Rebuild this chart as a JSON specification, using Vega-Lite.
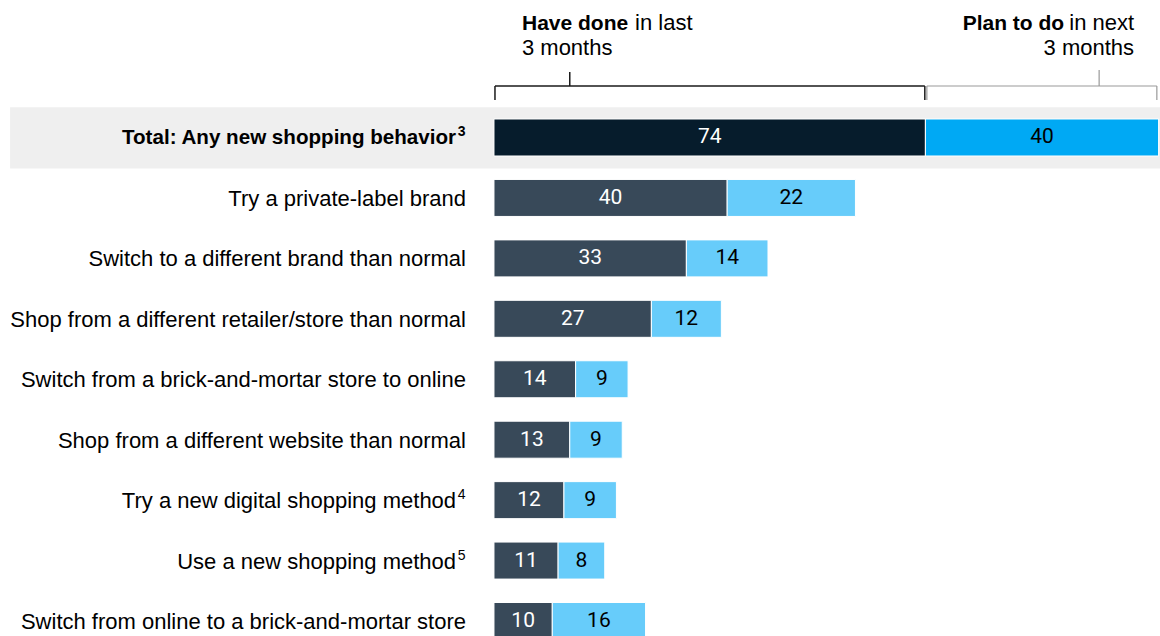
{
  "$schema": "https://vega.github.io/schema/vega-lite/v6.json",
  "autosize": "none",
  "padding": 0,
  "width": 1160,
  "height": 636,
  "background": "white",
  "config": {"view": {"stroke": null}, "text": {"font": "Liberation Sans"}},
  "data": {"values": [
    {"label": "Total: Any new shopping behavior", "note": "3", "row": 0, "done": 74, "plan": 40},
    {"label": "Try a private-label brand ", "note": "", "row": 1, "done": 40, "plan": 22},
    {"label": "Switch to a different brand than normal", "note": "", "row": 2, "done": 33, "plan": 14},
    {"label": "Shop from a different retailer/store than normal", "note": "", "row": 3, "done": 27, "plan": 12},
    {"label": "Switch from a brick-and-mortar store to online", "note": "", "row": 4, "done": 14, "plan": 9},
    {"label": "Shop from a different website than normal", "note": "", "row": 5, "done": 13, "plan": 9},
    {"label": "Try a new digital shopping method", "note": "4", "row": 6, "done": 12, "plan": 9},
    {"label": "Use a new shopping method", "note": "5", "row": 7, "done": 11, "plan": 8},
    {"label": "Switch from online to a brick-and-mortar store", "note": "", "row": 8, "done": 10, "plan": 16}
  ]},
  "encoding": {
    "x": {"type": "quantitative", "scale": {"domain": [-84.73, 114.24], "nice": false, "zero": false, "padding": 0}, "axis": null},
    "y": {"type": "quantitative", "scale": {"domain": [-2.275, 8.248], "nice": false, "zero": false, "reverse": true, "padding": 0}, "axis": null}
  },
  "layer": [
    {
      "data": {"values": [{}]},
      "mark": {"type": "rect", "color": "#efefef"},
      "encoding": {
        "x": {"datum": -83.0, "type": "quantitative"},
        "x2": {"datum": 114.24},
        "y": {"datum": -0.5, "type": "quantitative"},
        "y2": {"datum": 0.515}
      }
    },
    {
      "transform": [
        {"fold": ["done", "plan"], "as": ["period", "value"]},
        {"stack": "value", "groupby": ["label"], "sort": [{"field": "period", "order": "ascending"}], "as": ["v0", "v1"]}
      ],
      "mark": {"type": "bar", "orient": "horizontal", "height": 37, "stroke": "white", "strokeWidth": 1},
      "encoding": {
        "x": {"field": "v0", "type": "quantitative"},
        "x2": {"field": "v1"},
        "y": {"field": "row", "type": "quantitative"},
        "color": {
          "condition": [
            {"test": "datum.row === 0 && datum.period === 'done'", "value": "#061c2c"},
            {"test": "datum.row === 0", "value": "#00a9f4"}
          ],
          "field": "period", "type": "nominal",
          "scale": {"domain": ["done", "plan"], "range": ["#384959", "#67ccfa"]},
          "legend": null
        }
      }
    },
    {
      "transform": [
        {"fold": ["done", "plan"], "as": ["period", "value"]},
        {"stack": "value", "groupby": ["label"], "sort": [{"field": "period", "order": "ascending"}], "as": ["v0", "v1"]},
        {"calculate": "(datum.v0 + datum.v1) / 2", "as": "mid"}
      ],
      "mark": {"type": "text", "font": "Roboto", "fontSize": 21, "align": "center", "baseline": "middle", "dy": 0},
      "encoding": {
        "x": {"field": "mid", "type": "quantitative"},
        "y": {"field": "row", "type": "quantitative"},
        "text": {"field": "value", "type": "quantitative"},
        "color": {"condition": {"test": "datum.period === 'done'", "value": "white"}, "value": "black"}
      }
    },
    {
      "transform": [{"filter": "datum.row !== 0 && datum.note === ''"}],
      "mark": {"type": "text", "fontSize": 22, "align": "right", "baseline": "middle", "color": "black", "dy": 1},
      "encoding": {
        "x": {"datum": -4.8, "type": "quantitative"},
        "y": {"field": "row", "type": "quantitative"},
        "text": {"field": "label"}
      }
    },
    {
      "transform": [{"filter": "datum.row !== 0 && datum.note !== ''"}],
      "mark": {"type": "text", "fontSize": 22, "align": "right", "baseline": "middle", "color": "black", "dy": 1},
      "encoding": {
        "x": {"datum": -6.5, "type": "quantitative"},
        "y": {"field": "row", "type": "quantitative"},
        "text": {"field": "label"}
      }
    },
    {
      "transform": [{"filter": "datum.row === 0"}],
      "mark": {"type": "text", "fontSize": 20.6, "fontWeight": "bold", "align": "right", "baseline": "middle", "color": "black", "dy": 1},
      "encoding": {
        "x": {"datum": -6.5, "type": "quantitative"},
        "y": {"field": "row", "type": "quantitative"},
        "text": {"field": "label"}
      }
    },
    {
      "transform": [{"filter": "datum.note !== '' && datum.row !== 0"}],
      "mark": {"type": "text", "fontSize": 14, "align": "left", "baseline": "middle", "color": "black", "dy": -5},
      "encoding": {
        "x": {"datum": -6.2, "type": "quantitative"},
        "y": {"field": "row", "type": "quantitative"},
        "text": {"field": "note"}
      }
    },
    {
      "transform": [{"filter": "datum.row === 0"}],
      "mark": {"type": "text", "fontSize": 14, "fontWeight": "bold", "align": "left", "baseline": "middle", "color": "black", "dy": -5},
      "encoding": {
        "x": {"datum": -6.2, "type": "quantitative"},
        "y": {"field": "row", "type": "quantitative"},
        "text": {"field": "note"}
      }
    },
    {
      "data": {"values": [{}]},
      "mark": {"type": "text", "fontSize": 21, "fontWeight": "bold", "align": "left", "baseline": "alphabetic", "text": "Have done"},
      "encoding": {"x": {"datum": 4.8, "type": "quantitative"}, "y": {"datum": -1.779, "type": "quantitative"}}
    },
    {
      "data": {"values": [{}]},
      "mark": {"type": "text", "fontSize": 22, "align": "left", "baseline": "alphabetic", "text": "in last"},
      "encoding": {"x": {"datum": 24.2, "type": "quantitative"}, "y": {"datum": -1.779, "type": "quantitative"}}
    },
    {
      "data": {"values": [{}]},
      "mark": {"type": "text", "fontSize": 22, "align": "left", "baseline": "alphabetic", "text": "3 months"},
      "encoding": {"x": {"datum": 4.8, "type": "quantitative"}, "y": {"datum": -1.365, "type": "quantitative"}}
    },
    {
      "data": {"values": [{}]},
      "mark": {"type": "text", "fontSize": 21, "fontWeight": "bold", "align": "right", "baseline": "alphabetic", "text": "Plan to do"},
      "encoding": {"x": {"datum": 97.8, "type": "quantitative"}, "y": {"datum": -1.779, "type": "quantitative"}}
    },
    {
      "data": {"values": [{}]},
      "mark": {"type": "text", "fontSize": 22, "align": "right", "baseline": "alphabetic", "text": "in next"},
      "encoding": {"x": {"datum": 109.8, "type": "quantitative"}, "y": {"datum": -1.779, "type": "quantitative"}}
    },
    {
      "data": {"values": [{}]},
      "mark": {"type": "text", "fontSize": 22, "align": "right", "baseline": "alphabetic", "text": "3 months"},
      "encoding": {"x": {"datum": 109.8, "type": "quantitative"}, "y": {"datum": -1.365, "type": "quantitative"}}
    },
    {
      "data": {"values": [{}]},
      "mark": {"type": "rule", "color": "#1a1a1a", "strokeWidth": 1.5},
      "encoding": {"x": {"datum": 0.17, "type": "quantitative"}, "x2": {"datum": 73.9}, "y": {"datum": -0.852, "type": "quantitative"}}
    },
    {
      "data": {"values": [{}]},
      "mark": {"type": "rule", "color": "#1a1a1a", "strokeWidth": 1.5},
      "encoding": {"x": {"datum": 0.17, "type": "quantitative"}, "y": {"datum": -0.852, "type": "quantitative"}, "y2": {"datum": -0.62}}
    },
    {
      "data": {"values": [{}]},
      "mark": {"type": "rule", "color": "#1a1a1a", "strokeWidth": 1.5},
      "encoding": {"x": {"datum": 73.9, "type": "quantitative"}, "y": {"datum": -0.852, "type": "quantitative"}, "y2": {"datum": -0.62}}
    },
    {
      "data": {"values": [{}]},
      "mark": {"type": "rule", "color": "#1a1a1a", "strokeWidth": 1.5},
      "encoding": {"x": {"datum": 13.0, "type": "quantitative"}, "y": {"datum": -1.084, "type": "quantitative"}, "y2": {"datum": -0.852}}
    },
    {
      "data": {"values": [{}]},
      "mark": {"type": "rule", "color": "#999999", "strokeWidth": 1.2},
      "encoding": {"x": {"datum": 74.25, "type": "quantitative"}, "x2": {"datum": 113.7}, "y": {"datum": -0.852, "type": "quantitative"}}
    },
    {
      "data": {"values": [{}]},
      "mark": {"type": "rule", "color": "#999999", "strokeWidth": 1.2},
      "encoding": {"x": {"datum": 74.25, "type": "quantitative"}, "y": {"datum": -0.852, "type": "quantitative"}, "y2": {"datum": -0.62}}
    },
    {
      "data": {"values": [{}]},
      "mark": {"type": "rule", "color": "#999999", "strokeWidth": 1.2},
      "encoding": {"x": {"datum": 113.7, "type": "quantitative"}, "y": {"datum": -0.852, "type": "quantitative"}, "y2": {"datum": -0.62}}
    },
    {
      "data": {"values": [{}]},
      "mark": {"type": "rule", "color": "#999999", "strokeWidth": 1.2},
      "encoding": {"x": {"datum": 103.8, "type": "quantitative"}, "y": {"datum": -1.117, "type": "quantitative"}, "y2": {"datum": -0.852}}
    }
  ]
}
